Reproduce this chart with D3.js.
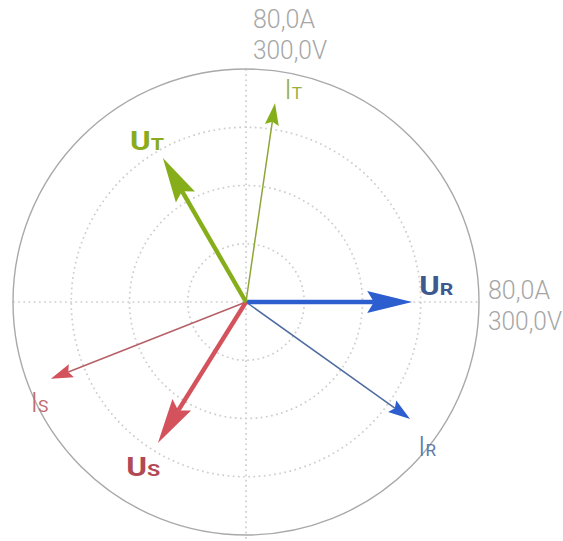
<!DOCTYPE html>
<html>
<head>
<meta charset="utf-8">
<script src="https://cdn.jsdelivr.net/npm/d3@7"></script>
<style>
  html, body { margin: 0; padding: 0; background: #fff; }
  svg { display: block; }
</style>
</head>
<body>
<svg id="chart" width="563" height="541"></svg>
<script>
// Phase names and phasor readings (magnitude, angle in degrees, counter-clockwise from +x)
const phases = ["R", "S", "T"];
const voltageMag = [214, 214, 214];          // V
const voltageAngle = [0, -122, 120];         // deg
const currentMag = [69.2, 72.0, 69.0];       // A
const currentAngle = [-35.5, -158.5, 81.7];  // deg

// Full-scale values of the outer circle and the inner ring values
const voltFull = 300;
const ampFull = 80;
const voltRings = [75, 150, 225];
const scaleText = ["80,0A", "300,0V"];

const phaseColor = {
  R: { arrow: "#2c5ed0", label: "#3e5890", thin: "#4e6ba2", ilabel: "#5b78a8" },
  S: { arrow: "#d4525b", label: "#b04a55", thin: "#b56066", ilabel: "#c26c70" },
  T: { arrow: "#86ae1b", label: "#8aab1b", thin: "#8ea637", ilabel: "#9aae46" }
};

// Hand-tuned label nudges (px) so names sit clear of the arrowheads
const labelNudge = {
  UR: [2, -16], US: [-3, 6], UT: [-5, 2],
  IR: [-1, 14], IS: [9, 15], IT: [15, 8]
};

const svg = d3.select("#chart");
const cx = 246, cy = 302, R = 233;

const rV = d3.scaleLinear().domain([0, voltFull]).range([0, R]);
const rI = d3.scaleLinear().domain([0, ampFull]).range([0, R]);

const g = svg.append("g").attr("transform", `translate(${cx},${cy})`);

// Grid: dotted rings and cross axes, solid outer circle
const dotted = sel => sel.attr("fill", "none")
  .attr("stroke", "#cdcdcd")
  .attr("stroke-width", 1.7)
  .attr("stroke-dasharray", "1.7,3.5");

g.selectAll("circle.ring").data(voltRings).join("circle")
  .attr("class", "ring")
  .attr("r", d => rV(d))
  .call(dotted);

g.append("line").attr("x1", -R).attr("x2", R).attr("y1", 0).attr("y2", 0).call(dotted);
g.append("line").attr("x1", 0).attr("x2", 0).attr("y1", -R).attr("y2", R + 8).call(dotted);

g.append("circle").attr("r", rV(voltFull))
  .attr("fill", "none").attr("stroke", "#a9a9a9").attr("stroke-width", 1.4);

// Full-scale annotations (top and right)
function scaleLabel(x, y0) {
  scaleText.forEach((s, i) => {
    svg.append("text")
      .attr("x", x).attr("y", y0 + i * 31)
      .attr("font-family", "Roboto, sans-serif")
      .attr("font-weight", 300)
      .attr("font-size", 25)
      .attr("fill", "#a6a6a6")
      .attr("textLength", i === 0 ? 62 : 74)
      .attr("lengthAdjust", "spacingAndGlyphs")
      .text(s);
  });
}
scaleLabel(cx + 7, 28);
scaleLabel(cx + R + 9, 299);

const toXY = (r, deg) => {
  const a = deg * Math.PI / 180;
  return [r * Math.cos(a), -r * Math.sin(a)];
};

const currents = phases.map((p, i) => ({
  phase: p, kind: "I", len: rI(currentMag[i]), ang: currentAngle[i]
}));
const voltages = phases.map((p, i) => ({
  phase: p, kind: "U", len: rV(voltageMag[i]), ang: voltageAngle[i]
}));

function drawPhasor(d) {
  const thick = d.kind === "U";
  const headL = thick ? 45 : 22;
  const headW = thick ? 11 : 7;
  const c = phaseColor[d.phase];
  const [tx, ty] = toXY(d.len, d.ang);
  const [bx, by] = toXY(d.len - headL, d.ang);
  const [nx, ny] = toXY(headW, d.ang + 90);
  const [mx, my] = toXY(d.len - headL * 0.85, d.ang);

  g.append("line")
    .attr("x1", 0).attr("y1", 0).attr("x2", mx).attr("y2", my)
    .attr("stroke", thick ? c.arrow : c.thin)
    .attr("stroke-width", thick ? 4.4 : 1.5);

  g.append("path")
    .attr("d", `M${tx},${ty}L${bx + nx},${by + ny}L${mx},${my}L${bx - nx},${by - ny}Z`)
    .attr("fill", c.arrow);
}

function drawLabel(d) {
  const thick = d.kind === "U";
  const c = phaseColor[d.phase];
  const bigSize = thick ? 25 : 28;
  const [lx, ly] = toXY(d.len + 22, d.ang);
  const [nx, ny] = labelNudge[d.kind + d.phase];
  const t = g.append("text")
    .attr("font-family", "Roboto, sans-serif")
    .attr("text-anchor", "middle")
    .attr("fill", thick ? c.label : c.ilabel)
    .attr("font-weight", thick ? 700 : 300)
    .attr("x", lx + nx)
    .attr("y", ly + ny + bigSize * 0.71 / 2)
    .attr("textLength", thick ? 34 : 18)
    .attr("lengthAdjust", "spacingAndGlyphs");
  t.append("tspan").attr("font-size", bigSize).text(d.kind);
  t.append("tspan").attr("font-size", 17)
    .attr("font-weight", thick ? 700 : 400).text(d.phase);
}

currents.forEach(drawPhasor);
voltages.forEach(drawPhasor);
currents.forEach(drawLabel);
voltages.forEach(drawLabel);
</script>
</body>
</html>
